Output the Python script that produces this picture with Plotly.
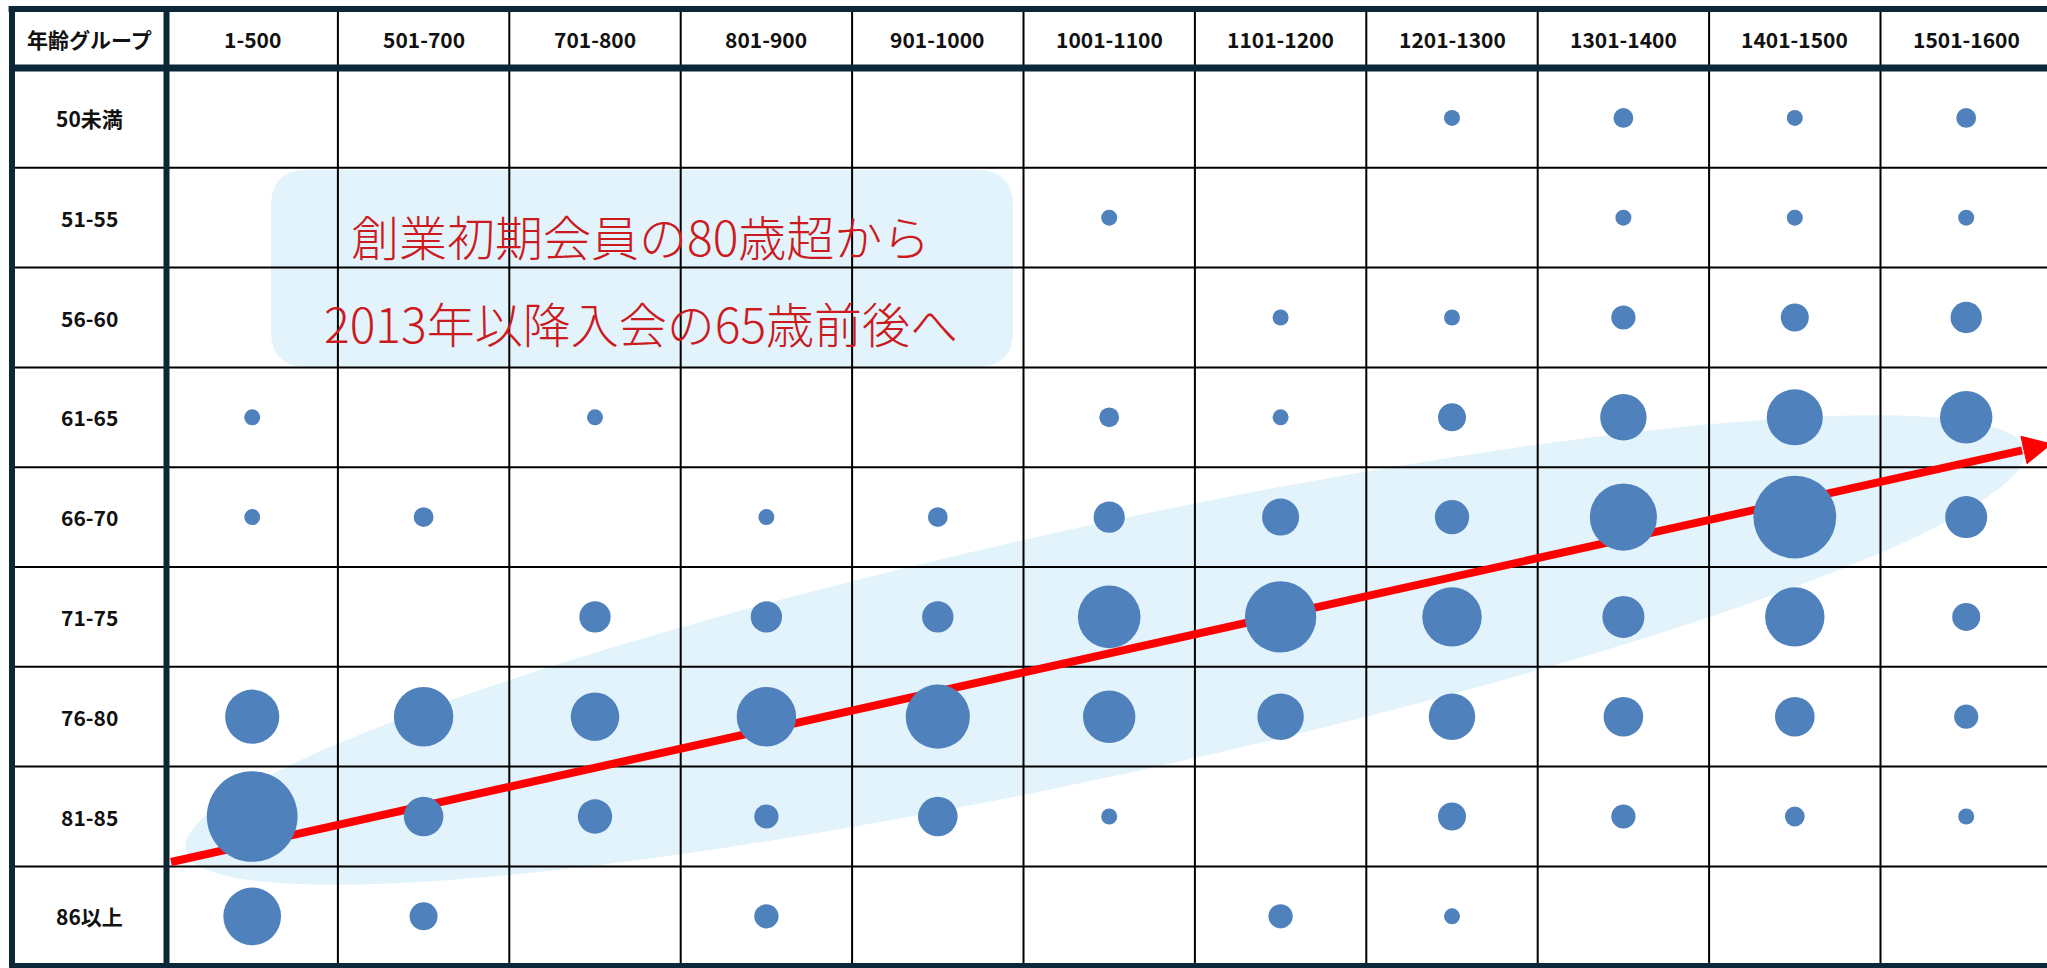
import numpy as np
import plotly.graph_objects as go

# ---------------- data ----------------
ranges = ["1-500", "501-700", "701-800", "801-900", "901-1000", "1001-1100",
          "1101-1200", "1201-1300", "1301-1400", "1401-1500", "1501-1600"]
age_groups = ["50未満", "51-55", "56-60", "61-65", "66-70", "71-75",
              "76-80", "81-85", "86以上"]
corner_label = "年齢グループ"

cnt_under50 = [0, 0, 0, 0, 0, 0, 0, 1, 2, 1, 2]
cnt_51_55   = [0, 0, 0, 0, 0, 1, 0, 0, 1, 1, 1]
cnt_56_60   = [0, 0, 0, 0, 0, 0, 1, 1, 3, 4, 5]
cnt_61_65   = [1, 0, 1, 0, 0, 2, 1, 4, 11, 16, 14]
cnt_66_70   = [1, 2, 0, 1, 2, 5, 7, 6, 23, 35, 9]
cnt_71_75   = [0, 0, 5, 5, 5, 20, 26, 18, 9, 18, 4]
cnt_76_80   = [15, 18, 12, 18, 21, 14, 11, 11, 8, 8, 3]
cnt_81_85   = [42, 8, 6, 3, 8, 1, 0, 4, 3, 2, 1]
cnt_86plus  = [17, 4, 0, 3, 0, 0, 3, 1, 0, 0, 0]

note_line1 = "創業初期会員の80歳超から"
note_line2 = "2013年以降入会の65歳前後へ"

rows = [cnt_under50, cnt_51_55, cnt_56_60, cnt_61_65, cnt_66_70,
        cnt_71_75, cnt_76_80, cnt_81_85, cnt_86plus]

# ---------------- layout helpers (pixel -> data) ----------------
W, H = 2047, 968
X0, DX = 252.2, 171.4   # pixel centre of first column, column width
Y0, DY = 117.9, 99.8    # pixel centre of first row, row height


def xd(px):
    return (px - X0) / DX


def yd(py):
    return (py - Y0) / DY


FONT = "Noto Sans CJK JP"
NOTE_FONT = "Noto Sans CJK JP Light, Noto Sans JP Light, Noto Sans CJK JP"
BUBBLE = "#4F81BD"
DARK = "#0C2737"
ELLIPSE = "#E2F3FB"

# bubble points
bx, by, bv = [], [], []
for j, r in enumerate(rows):
    for i, v in enumerate(r):
        if v > 0:
            bx.append(i)
            by.append(j)
            bv.append(v)

fig = go.Figure()

# arrow (under bubbles)
tail = np.array([171.0, 862.0])
end = np.array([2024.0, 450.0])
u = (end - tail) / np.linalg.norm(end - tail)
n = np.array([-u[1], u[0]])
shaft_end = end - 2 * u
head = [end + 14 * n, end + 28 * u, end - 14 * n]
fig.add_trace(go.Scatter(
    x=[xd(tail[0]), xd(shaft_end[0])], y=[yd(tail[1]), yd(shaft_end[1])],
    mode="lines", line=dict(color="#FF0000", width=8), hoverinfo="skip",
    showlegend=False))
fig.add_trace(go.Scatter(
    x=[xd(p[0]) for p in head] + [xd(head[0][0])],
    y=[yd(p[1]) for p in head] + [yd(head[0][1])],
    mode="lines", fill="toself", fillcolor="#FF0000",
    line=dict(color="#FF0000", width=1), hoverinfo="skip", showlegend=False))

# bubbles
fig.add_trace(go.Scatter(
    x=bx, y=by, mode="markers",
    marker=dict(size=bv, sizemode="area", sizeref=1 / 98.0, sizemin=8,
                color=BUBBLE, opacity=1, line=dict(width=0)),
    hovertemplate="%{x}, %{y}: %{marker.size}<extra></extra>",
    showlegend=False))

shapes = []

# light blue rotated ellipse
cx, cy, a, b, ang = 1105.0, 650.0, 941.0, 125.0, np.deg2rad(12.3)
t = np.linspace(0, 2 * np.pi, 121)
ex = cx + a * np.cos(t) * np.cos(ang) + b * np.sin(t) * np.sin(ang)
ey = cy - a * np.cos(t) * np.sin(ang) + b * np.sin(t) * np.cos(ang)
path = "M " + " L ".join(f"{xd(px):.5f},{yd(py):.5f}" for px, py in zip(ex, ey)) + " Z"
shapes.append(dict(type="path", path=path, xref="x", yref="y",
                   fillcolor=ELLIPSE, line=dict(width=0), layer="below"))

# rounded rectangle behind note
rx0, rx1, ry0, ry1, rr = 271.0, 1013.0, 170.0, 367.0, 36.0
pts = [
    ("M", rx0 + rr, ry0), ("L", rx1 - rr, ry0), ("Q", rx1, ry0, rx1, ry0 + rr),
    ("L", rx1, ry1 - rr), ("Q", rx1, ry1, rx1 - rr, ry1),
    ("L", rx0 + rr, ry1), ("Q", rx0, ry1, rx0, ry1 - rr),
    ("L", rx0, ry0 + rr), ("Q", rx0, ry0, rx0 + rr, ry0),
]
segs = []
for p in pts:
    cmd = p[0]
    coords = p[1:]
    cs = " ".join(f"{xd(coords[k]):.5f},{yd(coords[k + 1]):.5f}"
                  for k in range(0, len(coords), 2))
    segs.append(f"{cmd} {cs}")
shapes.append(dict(type="path", path=" ".join(segs) + " Z", xref="x", yref="y",
                   fillcolor=ELLIPSE, line=dict(width=0), layer="below"))

x_left = xd(12)
x_right = xd(W + 5)
y_top = yd(9)
y_bot = yd(966)

# thin grid lines
for i in range(1, len(ranges) + 1):
    shapes.append(dict(type="line", xref="x", yref="y", x0=i - 0.5, x1=i - 0.5,
                       y0=y_top, y1=y_bot, line=dict(color="#000000", width=2),
                       layer="below"))
for j in range(1, len(age_groups)):
    shapes.append(dict(type="line", xref="x", yref="y", x0=x_left, x1=x_right,
                       y0=j - 0.5, y1=j - 0.5, line=dict(color="#000000", width=2),
                       layer="below"))

# thick dark frame lines
for (x0_, x1_, y0_, y1_, w_) in [
    (x_left - 0.02, x_right, y_top, y_top, 6),
    (x_left, x_right, -0.5, -0.5, 7),
    (x_left, x_right, y_bot, y_bot, 6),
    (x_left, x_left, yd(6), yd(W), 6),
    (-0.5, -0.5, yd(6), yd(W), 6),
]:
    shapes.append(dict(type="line", xref="x", yref="y", x0=x0_, x1=x1_,
                       y0=y0_, y1=y1_, line=dict(color=DARK, width=w_),
                       layer="below"))

annotations = []
hdr_y = (y_top - 0.5) / 2
lab_x = (x_left - 0.5) / 2
hdr_font = dict(family=FONT, size=21, color="#111111", weight=700)
annotations.append(dict(x=lab_x, y=hdr_y, xref="x", yref="y", text=corner_label,
                        showarrow=False, font=hdr_font))
for i, c in enumerate(ranges):
    annotations.append(dict(x=i, y=hdr_y, xref="x", yref="y", text=c,
                            showarrow=False, font=hdr_font))
for j, g in enumerate(age_groups):
    annotations.append(dict(x=lab_x, y=j, xref="x", yref="y", text=g,
                            showarrow=False, font=hdr_font))

note_font = dict(family=NOTE_FONT, size=48, color="#CC1A1F", weight=300)
annotations.append(dict(x=xd(640), y=yd(235), xref="x", yref="y", text=note_line1,
                        showarrow=False, font=note_font))
annotations.append(dict(x=xd(641), y=yd(322), xref="x", yref="y", text=note_line2,
                        showarrow=False, font=note_font))

fig.update_layout(
    width=W, height=H,
    margin=dict(l=0, r=0, t=0, b=0, pad=0),
    paper_bgcolor="white", plot_bgcolor="white",
    xaxis=dict(range=[xd(0), xd(W)], visible=False, fixedrange=True),
    yaxis=dict(range=[yd(H), yd(0)], visible=False, fixedrange=True),
    shapes=shapes, annotations=annotations, showlegend=False,
)

fig.write_html("out.html", config={"displayModeBar": False},
               post_script="document.body.style.margin='0';document.body.style.overflow='hidden';")
